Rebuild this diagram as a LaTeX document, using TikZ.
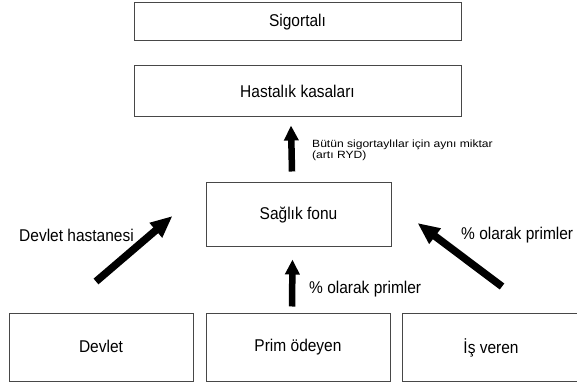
\documentclass[tikz,border=0pt]{standalone}
\usepackage{fontspec}
\setmainfont{Liberation Sans}
\usetikzlibrary{arrows.meta}
\newcommand{\vtxt}[1]{\scalebox{1}[1.1]{#1}}
\begin{document}
\begin{tikzpicture}[x=1pt,y=1pt,
  box/.style={draw=black!72, line width=1pt, inner sep=0pt,
    font=\fontsize{15.5}{18}\selectfont},
  lbl/.style={anchor=west, inner sep=0pt, font=\fontsize{15.5}{18}\selectfont},
  small/.style={anchor=west, inner sep=0pt, align=left,
    font=\fontsize{10.5}{8.6}\selectfont},
  varrow/.style={line width=6.5pt, -{Triangle[width=14pt,length=15pt]}},
  darrow/.style={line width=7.5pt, -{Triangle[width=18pt,length=22pt]}}]
\useasboundingbox (0,0) rectangle (577,385);
\fill[white] (0,0) rectangle (577,385);

\node[box, minimum width=327pt, minimum height=38pt] (sig) at (297.5,363) {\vtxt{Sigortalı}};
\node[box, minimum width=327pt, minimum height=51pt] (has) at (297.5,293.5) {\vtxt{Hastalık kasaları}};
\node[box, minimum width=185pt, minimum height=64pt] (sag) at (298.5,170) {\vtxt{Sağlık fonu}};
\node[box, minimum width=184pt, minimum height=67pt] (dev) at (101,37.5) {\raisebox{2pt}{\vtxt{Devlet}}};
\node[box, minimum width=184pt, minimum height=67pt] (prim) at (298,37.5) {\vtxt{Prim ödeyen}};
\node[box, minimum width=178pt, minimum height=67pt] (is) at (491,37.5) {\vtxt{İş veren}};

\coordinate (lt) at ([xshift=-5pt,yshift=32pt]dev.north);
\coordinate (lh) at ([xshift=-33pt,yshift=-1pt]sag.west);
\coordinate (rt) at ([xshift=11pt,yshift=27pt]is.north);
\coordinate (rh) at ([xshift=26pt,yshift=-8pt]sag.east);

\draw[varrow] ([xshift=-6.5pt,yshift=11pt]sag.north) -- ([xshift=-6.5pt,yshift=-8pt]has.south);
\draw[varrow] ([xshift=-6pt,yshift=7pt]prim.north) -- ([xshift=-6pt,yshift=-12pt]sag.south);
\draw[darrow] (lt) -- (lh);
\draw[darrow] (rt) -- (rh);

\node[small] (t1) at (312,234.5) {\scalebox{1.15}[1]{Bütün sigortaylılar için aynı miktar}\\\scalebox{1.15}[1]{(artı RYD)}};
\node[lbl] (t2) at (309,96) {\vtxt{\% olarak primler}};
\node[lbl] (t3) at (461,150) {\vtxt{\% olarak primler}};
\node[lbl] (t4) at (19,150) {\vtxt{Devlet hastanesi}};
\end{tikzpicture}
\end{document}
